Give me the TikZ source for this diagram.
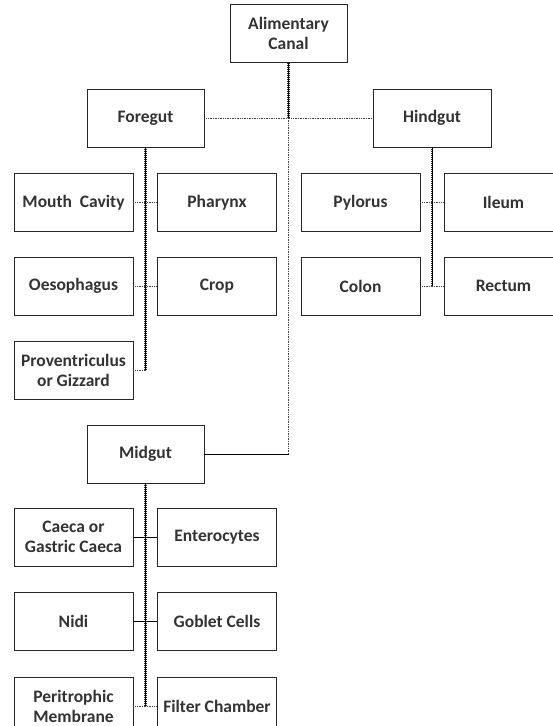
\documentclass[tikz,border=0pt]{standalone}
\usepackage{fontspec}
\setmainfont{Carlito}
\begin{document}
\begin{tikzpicture}[x=1pt,y=-1pt,
  box/.style={draw=black!85,line width=0.9pt,fill=white,minimum width=119pt,minimum height=58pt,inner sep=2pt,align=center,font=\fontsize{17.5}{20}\selectfont\bfseries,text=black!80},
  trunk/.style={line width=2.8pt,dash pattern=on 0.7pt off 1.3pt,black!85},
  trunkcore/.style={line width=0.9pt,black},
  link/.style={line width=0.7pt,densely dotted,black!75},
  slink/.style={line width=0.7pt,black}]
\useasboundingbox (0,0) rectangle (553,726);
\clip (0,0) rectangle (553,726);
\node[box,minimum width=117pt] (ac) at (288.5,33.5) {Alimentary\\Canal};
\node[box,minimum width=117pt] (fg) at (145.5,118) {Foregut};
\node[box,minimum width=118pt] (hg) at (432,118) {Hindgut};
\node[box,minimum width=117pt] (mg) at (145.5,454) {Midgut};
\node[box] (mc) at (73.5,202.5) {Mouth\ \ Cavity};
\node[box] (ph) at (217,202.5) {Pharynx};
\node[box] (oe) at (73.5,286) {Oesophagus};
\node[box] (cr) at (217,286) {Crop};
\node[box] (pv) at (73.5,370) {Proventriculus\\or Gizzard};
\node[box] (py) at (360.5,202.5) {Pylorus};
\node[box] (il) at (503.5,202.5) {Ileum};
\node[box] (co) at (360.5,286) {Colon};
\node[box] (re) at (503.5,286) {Rectum};
\node[box] (ca) at (73.5,537) {Caeca or\\Gastric Caeca};
\node[box] (en) at (217,537) {Enterocytes};
\node[box] (ni) at (73.5,621) {Nidi};
\node[box] (gc) at (217,621) {Goblet Cells};
\node[box] (pm) at (73.5,706) {Peritrophic\\Membrane};
\node[box] (fc) at (217,706) {Filter Chamber};
% coordinates
\coordinate (j) at (ac.south |- fg.east);
\coordinate (jm) at (ac.south |- mg.east);
\coordinate (fgend) at (fg.south |- pv.east);
\coordinate (hgend) at (hg.south |- co.east);
\coordinate (mgend) at (mg.south |- pm.east);
% top level
\draw[trunk] (ac.south) -- (j);
\draw[trunkcore] (ac.south) -- (j);
\draw[link] (fg.east) -- (hg.west);
\draw[link] (j) -- (jm);
\draw[slink] (mg.east) -- (jm);
% foregut
\draw[link] (mc.east) -- (ph.west);
\draw[link] (oe.east) -- (cr.west);
\draw[link] (pv.east) -- (fgend);
\draw[trunk] (fg.south) -- (fgend);
\draw[trunkcore] (fg.south) -- (fgend);
% hindgut
\draw[link] (py.east) -- (il.west);
\draw[link] (co.east) -- (re.west);
\draw[trunk] (hg.south) -- (hgend);
\draw[trunkcore] (hg.south) -- (hgend);
% midgut
\draw[slink] (ca.east) -- (en.west);
\draw[slink] (ni.east) -- (gc.west);
\draw[link] (pm.east) -- (fc.west);
\draw[trunk] (mg.south) -- (mgend);
\draw[trunkcore] (mg.south) -- (mgend);
\end{tikzpicture}
\end{document}
